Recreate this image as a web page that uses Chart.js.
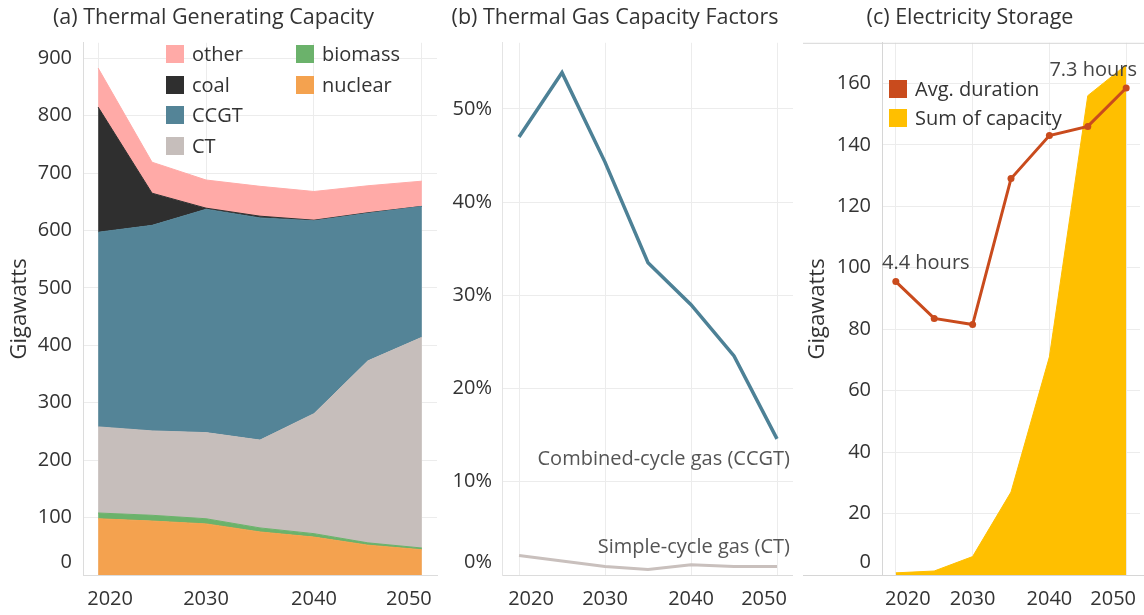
<!DOCTYPE html>
<html><head><meta charset="utf-8">
<script src="https://cdn.jsdelivr.net/npm/chart.js@4.4.1/dist/chart.umd.min.js"></script>
<style>
html,body{margin:0;padding:0;background:#fff;width:1144px;height:615px;overflow:hidden;}
.p{position:absolute;top:0;height:615px;}
</style></head><body>
<div class="p" style="left:-10px;width:450px"><canvas id="ca"></canvas></div>
<div class="p" style="left:437px;width:356px"><canvas id="cb"></canvas></div>
<div class="p" style="left:796px;width:348px"><canvas id="cc"></canvas></div>
<script>
// ---------- data ----------
const years = [2020, 2025, 2030, 2035, 2040, 2045, 2050];
const yearTicks = [2020, 2030, 2040, 2050];

// (a) Thermal generating capacity, GW (stack order bottom -> top)
const nuclear = [98, 94, 89, 75, 66, 52, 44];
const biomass = [10, 10, 9, 7, 6, 4, 3];
const ct      = [150, 147, 150, 153, 209, 317, 367];
const ccgt    = [339, 358, 389, 387, 336, 257, 228];
const coal    = [218, 56, 2, 3, 1, 1, 0];
const other   = [68, 54, 49, 52, 50, 47, 44];
const capTicks = [0, 100, 200, 300, 400, 500, 600, 700, 800, 900];

// (b) Thermal gas capacity factors, %
const ccgtCF = [47.0, 53.9, 44.3, 33.5, 29.0, 23.5, 14.6];
const ctCF   = [2.1, 1.5, 0.9, 0.6, 1.1, 0.9, 0.9];
const cfTicks = [0, 10, 20, 30, 40, 50];

// (c) Electricity storage
const storageCap  = [0.7, 1.3, 6, 27, 71, 156, 166];        // GW
const avgDuration = [95.5, 83.5, 81.5, 129, 143, 146, 158.5]; // as plotted on the GW axis
const durationLabels = ['4.4 hours', '', '', '', '', '', '7.3 hours'];
const storTicks = [0, 20, 40, 60, 80, 100, 120, 140, 160];

// ---------- helpers ----------
const FONT = "'Open Sans', 'Noto Sans', sans-serif";
const TXT = '#333333';
const GRID = '#ececec';
const pts = arr => years.map((y, i) => ({x: y, y: arr[i]}));
const setTicks = list => (s => { s.ticks = list.map(v => ({value: v})); });
const noPad = s => { s.paddingLeft = 0; s.paddingRight = 0; s.paddingTop = 0; s.paddingBottom = 0; };

const decor = {
  id: 'decor',
  beforeDraw(chart) {
    // keep edge tick labels inside the pane (as the original does)
    const x = chart.scales.x, y = chart.scales.y;
    const xi = x.getLabelItems();
    if (xi.length) {
      xi[0].options.translation[0] += 12;
      xi[xi.length - 1].options.translation[0] -= 13;
    }
    const yi = y.getLabelItems();
    if (yi.length) yi[0].options.translation[1] -= 13;
  },
  beforeDatasetsDraw(chart, args, o) {
    const ctx = chart.ctx, a = chart.chartArea;
    ctx.save();
    if (o.frameLeft !== undefined) {
      ctx.strokeStyle = '#d6d6d6'; ctx.lineWidth = 1;
      ctx.beginPath();
      ctx.moveTo(o.frameLeft, a.top + 0.5); ctx.lineTo(chart.width, a.top + 0.5);
      ctx.moveTo(o.frameLeft, a.bottom + 0.5); ctx.lineTo(chart.width, a.bottom + 0.5);
      ctx.stroke();
    }
    ctx.restore();
  },
  afterDatasetsDraw(chart, args, o) {
    const ctx = chart.ctx, a = chart.chartArea;
    ctx.save();
    ctx.font = '20px ' + FONT;
    ctx.textBaseline = 'middle';
    (o.legend || []).forEach(it => {
      const ds = chart.data.datasets.find(d => d.label === it.label);
      ctx.fillStyle = ds.legendColor || ds.backgroundColor;
      ctx.fillRect(it.x, it.y - 9, 18, 18);
      ctx.fillStyle = TXT; ctx.textAlign = 'left';
      ctx.fillText(it.label, it.x + 26, it.y + 1);
    });
    (o.notes || []).forEach(n => {
      ctx.fillStyle = '#555'; ctx.textAlign = 'right';
      ctx.fillText(n.text, a.right - 3, chart.scales.y.getPixelForValue(n.at));
    });
    if (o.pointLabels) {
      const meta = chart.getDatasetMeta(o.pointLabels.dataset);
      ctx.fillStyle = '#444';
      o.pointLabels.texts.forEach((t, i) => {
        if (!t) return;
        const p = meta.data[i];
        const w = ctx.measureText(t).width;
        let cx = Math.min(Math.max(p.x, a.left + w / 2), a.right - w / 2 - 3);
        ctx.textAlign = 'center';
        ctx.fillText(t, cx, p.y - 18);
      });
    }
    ctx.restore();
  }
};
Chart.register(decor);

const tickFont = {family: FONT, size: 20};
function xScale(min, max) {
  return {
    type: 'linear', min, max,
    afterBuildTicks: setTicks(yearTicks),
    afterFit: s => { s.height = 40; noPad(s); },
    grid: {color: GRID, drawTicks: false},
    border: {color: '#dcdcdc'},
    ticks: {font: tickFont, color: TXT, padding: 12, maxRotation: 0, callback: v => String(v)}
  };
}
function titleOpt(text) {
  return {display: true, text, color: TXT, font: {family: FONT, size: 21.5, weight: 'normal'},
          padding: {top: 5, bottom: 12}};
}
const baseOpts = {responsive: true, maintainAspectRatio: false, animation: false,
                  events: []};

// ---------- (a) ----------
function area(label, arr, color, fill) {
  return {label, data: pts(arr), backgroundColor: color, borderColor: color, borderWidth: 1,
          pointRadius: 0, fill, tension: 0};
}
new Chart(document.getElementById('ca'), {
  type: 'line',
  data: {datasets: [
    area('nuclear', nuclear, '#f4a24f', 'origin'),
    area('biomass', biomass, '#6bb26b', '-1'),
    area('CT', ct, '#c6bebb', '-1'),
    area('CCGT', ccgt, '#548497', '-1'),
    area('coal', coal, '#2f2f2f', '-1'),
    area('other', other, '#ffaaa7', '-1')
  ]},
  options: Object.assign({}, baseOpts, {
    layout: {padding: {left: 0, right: 3, top: 0, bottom: 0}},
    scales: {
      x: xScale(2018.6, 2051.4),
      y: {
        stacked: true, min: 0, max: 927,
        afterBuildTicks: setTicks(capTicks),
        afterFit: s => { s.width = 93; noPad(s); },
        grid: {color: GRID, drawTicks: false},
        border: {color: '#dcdcdc'},
        ticks: {font: tickFont, color: TXT, padding: 11},
        title: {display: true, text: 'Gigawatts', color: TXT, font: {family: FONT, size: 22},
                padding: {top: 17, bottom: 0}}
      }
    },
    plugins: {
      legend: {display: false}, tooltip: {enabled: false},
      title: titleOpt('(a) Thermal Generating Capacity'),
      decor: {legend: [
        {label: 'other', x: 176, y: 54}, {label: 'coal', x: 176, y: 85},
        {label: 'CCGT', x: 176, y: 115}, {label: 'CT', x: 176, y: 146},
        {label: 'biomass', x: 306, y: 54}, {label: 'nuclear', x: 306, y: 85}
      ]}
    }
  })
});

// ---------- (b) ----------
new Chart(document.getElementById('cb'), {
  type: 'line',
  data: {datasets: [
    {label: 'Combined-cycle gas (CCGT)', data: pts(ccgtCF), borderColor: '#4d8196', borderWidth: 3.5,
     pointRadius: 0, fill: false, tension: 0},
    {label: 'Simple-cycle gas (CT)', data: pts(ctCF), borderColor: '#c9c0bd', borderWidth: 3,
     pointRadius: 0, fill: false, tension: 0}
  ]},
  options: Object.assign({}, baseOpts, {
    layout: {padding: {left: 0, right: 0, top: 0, bottom: 0}},
    scales: {
      x: xScale(2018.02, 2051.86),
      y: {
        min: 0, max: 57.1,
        afterBuildTicks: setTicks(cfTicks),
        afterFit: s => { s.width = 65; noPad(s); },
        grid: {color: GRID, drawTicks: false},
        border: {color: '#e4e4e4'},
        ticks: {font: tickFont, color: TXT, padding: 10, callback: v => v + '%'}
      }
    },
    plugins: {
      legend: {display: false}, tooltip: {enabled: false},
      title: titleOpt('(b) Thermal Gas Capacity Factors'),
      decor: {notes: [
        {text: 'Combined-cycle gas (CCGT)', at: 12.4},
        {text: 'Simple-cycle gas (CT)', at: 3.0}
      ]}
    }
  })
});

// ---------- (c) ----------
new Chart(document.getElementById('cc'), {
  type: 'line',
  data: {datasets: [
    {label: 'Avg. duration', data: pts(avgDuration), borderColor: '#c94b1d', backgroundColor: '#c94b1d',
     legendColor: '#c94b1d', borderWidth: 3, pointRadius: 3.5, pointBackgroundColor: '#c94b1d',
     pointBorderWidth: 0, fill: false, tension: 0},
    {label: 'Sum of capacity', data: pts(storageCap), borderColor: '#ffbf00', backgroundColor: '#ffbf00',
     borderWidth: 1, pointRadius: 0, fill: 'origin', tension: 0}
  ]},
  options: Object.assign({}, baseOpts, {
    layout: {padding: {left: 0, right: 0, top: 0, bottom: 0}},
    scales: {
      x: xScale(2018.2, 2051.8),
      y: {
        min: 0, max: 173.2,
        afterBuildTicks: setTicks(storTicks),
        afterFit: s => { s.width = 86; noPad(s); },
        grid: {color: GRID, drawTicks: false},
        border: {color: '#d6d6d6'},
        ticks: {font: tickFont, color: TXT, padding: 11},
        title: {display: true, text: 'Gigawatts', color: TXT, font: {family: FONT, size: 22},
                padding: {top: 9, bottom: 0}}
      }
    },
    plugins: {
      legend: {display: false}, tooltip: {enabled: false},
      title: titleOpt('(c) Electricity Storage'),
      decor: {
        frameLeft: 7,
        legend: [{label: 'Avg. duration', x: 93, y: 89}, {label: 'Sum of capacity', x: 93, y: 118}],
        pointLabels: {dataset: 0, texts: durationLabels}
      }
    }
  })
});
</script>
</body></html>
